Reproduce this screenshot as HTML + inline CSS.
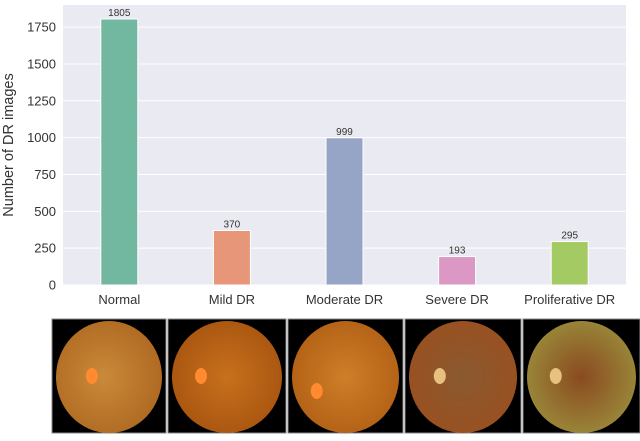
<!DOCTYPE html>
<html><head><meta charset="utf-8"><style>
body{margin:0;background:#fff;width:640px;height:436px;overflow:hidden;font-family:"Liberation Sans","DejaVu Sans",sans-serif}
</style></head><body>
<svg id="chart" width="640" height="436" xmlns="http://www.w3.org/2000/svg">
<defs>
<radialGradient id="g0" cx="45%" cy="50%" r="55%"><stop offset="0" stop-color="#c98a3a"/><stop offset="1" stop-color="#b06a22"/></radialGradient>
<radialGradient id="g1" cx="50%" cy="50%" r="55%"><stop offset="0" stop-color="#c7701c"/><stop offset="1" stop-color="#a85510"/></radialGradient>
<radialGradient id="g2" cx="50%" cy="50%" r="55%"><stop offset="0" stop-color="#cf7e28"/><stop offset="1" stop-color="#b26015"/></radialGradient>
<radialGradient id="g3" cx="50%" cy="50%" r="55%"><stop offset="0" stop-color="#8a5a30"/><stop offset="1" stop-color="#9a5020"/></radialGradient>
<radialGradient id="g4" cx="50%" cy="50%" r="55%"><stop offset="0" stop-color="#8a4a20"/><stop offset="1" stop-color="#9a8a3a"/></radialGradient>
</defs>
<g id="plot"></g>
<g id="fundus"></g>
</svg>
<script>
const categories=["Normal","Mild DR","Moderate DR","Severe DR","Proliferative DR"];
const counts=[1805,370,999,193,295];
const colors=["#72b7a0","#e8967a","#96a5c5","#dc98c4","#a4ca63"];
const yTicks=[0,250,500,750,1000,1250,1500,1750];
const NS="http://www.w3.org/2000/svg";
const L=63,R=626,T=5,B=285,yMax=1900;
function y(v){return B-(v/yMax)*(B-T);}
const step=(R-L)/categories.length;
function xc(i){return L+step*(i+0.5);}
const plot=document.getElementById('plot');
function mk(tag,attrs,parent){const e=document.createElementNS(NS,tag);for(const k in attrs)e.setAttribute(k,attrs[k]);(parent||plot).appendChild(e);return e;}
const bg=mk('rect',{x:L,y:T,width:R-L,height:B-T,fill:'#eaeaf2'});


yTicks.forEach(t=>{
 const g=mk('line',{x1:L,x2:R,y1:y(t),y2:y(t),stroke:'#fff','stroke-width':1});
 
 
 const tx=mk('text',{x:L-7,y:y(t)+4.5,'text-anchor':'end','font-size':13,fill:'#333'});
 tx.textContent=t;
 
 
});
const yt=mk('text',{x:13,y:(T+B)/2,'text-anchor':'middle','font-size':14.5,fill:'#333',transform:`rotate(-90 13 ${(T+B)/2})`});
yt.textContent='Number of DR images';


const bw=37;
categories.forEach((c,i)=>{
 const b=mk('rect',{x:xc(i)-bw/2,y:y(counts[i]),width:bw,height:B-y(counts[i]),fill:colors[i],stroke:'#fff','stroke-width':1});
 
 
 const v=mk('text',{x:xc(i),y:y(counts[i])-3,'text-anchor':'middle','font-size':10,fill:'#333'});
 v.textContent=counts[i];
 
 
 const xl=mk('text',{x:xc(i),y:B+19,'text-anchor':'middle','font-size':13,fill:'#333'});
 xl.textContent=c;
 
 
});
const fg=document.getElementById('fundus');
const imgs=[[52,166,'g0',0.35],[168,286,'g1',0.28],[288,403,'g2',0.25],[405,521,'g3',0.3],[523,640,'g4',0.28]];
imgs.forEach((m,i)=>{
 const [x0,x1,g,dx]=m,yy=319,h=114,w=x1-x0;
 const r=mk('rect',{x:x0,y:yy,width:w,height:h,fill:'#000',stroke:'#888','stroke-width':1},fg);
 
 
 const e=mk('ellipse',{cx:x0+w/2,cy:yy+h/2+1,rx:w/2-4,ry:h/2-1,fill:`url(#${g})`},fg);
 
 
 const d=mk('ellipse',{cx:x0+w*dx,cy:yy+h*0.5+(i==2?15:0),rx:6,ry:8,fill:i>2?'#e8c080':'#ff8a30'},fg);
 
 
});
</script>
</body></html>
